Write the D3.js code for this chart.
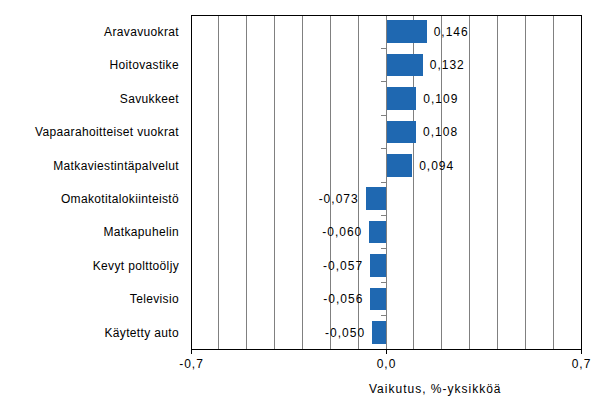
<!DOCTYPE html>
<html>
<head>
<meta charset="utf-8">
<script src="https://cdn.jsdelivr.net/npm/d3@7"></script>
<style>
  body { margin: 0; background: #fff; }
  text { font-family: "Liberation Sans", Arial, sans-serif; font-size: 12px; fill: #000; letter-spacing: 0.35px; }
  .num { letter-spacing: 1px; }
</style>
</head>
<body>
<div id="chart"></div>
<script>
// Chart data
const categories = ["Aravavuokrat", "Hoitovastike", "Savukkeet", "Vapaarahoitteiset vuokrat",
  "Matkaviestintäpalvelut", "Omakotitalokiinteistö", "Matkapuhelin", "Kevyt polttoöljy",
  "Televisio", "Käytetty auto"];
const values = [0.146, 0.132, 0.109, 0.108, 0.094, -0.073, -0.060, -0.057, -0.056, -0.050];
const xTicks = [-0.7, 0, 0.7];
const axisTitle = "Vaikutus, %-yksikköä";

const width = 607, height = 418;
const margin = { top: 15, right: 26, bottom: 69, left: 191 };

const svg = d3.select("#chart").append("svg")
  .attr("width", width)
  .attr("height", height);

const x = d3.scaleLinear()
  .domain([-0.7, 0.7])
  .range([margin.left, width - margin.right]);

const y = d3.scaleBand()
  .domain(categories)
  .range([margin.top, height - margin.bottom])
  .paddingInner(0.32)
  .paddingOuter(0.16);

const fmt = v => d3.format(".3f")(v).replace(".", ",").replace("−", "-");

// vertical gridlines every 0.1
const grid = d3.range(-6, 7).map(i => i / 10).filter(v => Math.abs(v) > 1e-9);
svg.append("g").selectAll("line")
  .data(grid)
  .enter().append("line")
  .attr("x1", d => x(d)).attr("x2", d => x(d))
  .attr("y1", margin.top).attr("y2", height - margin.bottom)
  .attr("stroke", "#808080")
  .attr("stroke-width", 1)
  .attr("shape-rendering", "crispEdges");

// bars
svg.append("g").selectAll("rect")
  .data(values)
  .enter().append("rect")
  .attr("x", d => Math.min(x(0), x(d)))
  .attr("y", (d, i) => y(categories[i]))
  .attr("width", d => Math.abs(x(d) - x(0)))
  .attr("height", y.bandwidth())
  .attr("fill", "#1f68b1")
  .attr("shape-rendering", "crispEdges");

// zero axis with small ticks at category boundaries
const zero = svg.append("g");
zero.append("line")
  .attr("x1", x(0)).attr("x2", x(0))
  .attr("y1", margin.top).attr("y2", height - margin.bottom)
  .attr("stroke", "#808080")
  .attr("shape-rendering", "crispEdges");
const bandH = (height - margin.bottom - margin.top) / categories.length;
zero.selectAll(".t")
  .data(d3.range(1, categories.length))
  .enter().append("line")
  .attr("x1", x(0) - 5).attr("x2", x(0))
  .attr("y1", i => margin.top + i * bandH)
  .attr("y2", i => margin.top + i * bandH)
  .attr("stroke", "#808080")
  .attr("shape-rendering", "crispEdges");

// plot frame
svg.append("rect")
  .attr("x", margin.left).attr("y", margin.top)
  .attr("width", width - margin.right - margin.left)
  .attr("height", height - margin.bottom - margin.top)
  .attr("fill", "none")
  .attr("stroke", "#000")
  .attr("shape-rendering", "crispEdges");

// value labels
svg.append("g").selectAll("text")
  .data(values)
  .enter().append("text")
  .attr("class", "num")
  .attr("x", d => d >= 0 ? x(d) + 7 : x(d) - 7)
  .attr("y", (d, i) => y(categories[i]) + y.bandwidth() / 2)
  .attr("dy", "0.35em")
  .attr("text-anchor", d => d >= 0 ? "start" : "end")
  .text(d => fmt(d));

// category labels
svg.append("g").selectAll("text")
  .data(categories)
  .enter().append("text")
  .attr("x", 179)
  .attr("y", d => y(d) + y.bandwidth() / 2)
  .attr("dy", "0.35em")
  .attr("text-anchor", "end")
  .text(d => d);

// x axis
const xAxis = d3.axisBottom(x)
  .tickValues(xTicks)
  .tickSize(5)
  .tickFormat(d => d3.format(".1f")(d).replace(".", ",").replace("−", "-"));
const ax = svg.append("g")
  .attr("transform", `translate(0,${height - margin.bottom})`)
  .call(xAxis);
ax.select(".domain").remove();
ax.selectAll(".tick line").attr("stroke", "#000");
ax.selectAll(".tick text")
  .attr("class", "num")
  .attr("y", 10)
  .style("font-family", "Liberation Sans, Arial, sans-serif")
  .style("font-size", "12px")
  .attr("fill", "#000");

svg.append("text")
  .attr("class", "num")
  .attr("x", 369)
  .attr("y", 393)
  .attr("text-anchor", "start")
  .text(axisTitle);
</script>
</body>
</html>
